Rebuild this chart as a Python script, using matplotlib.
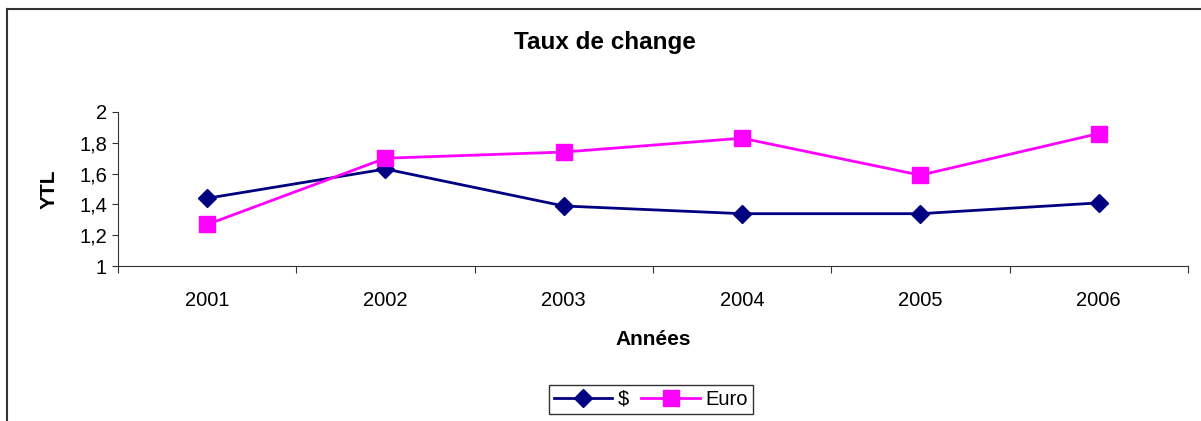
import matplotlib.pyplot as plt
from matplotlib.lines import Line2D

plt.rcParams['font.family'] = ['Liberation Sans', 'DejaVu Sans']

years = ['2001', '2002', '2003', '2004', '2005', '2006']
usd = [1.44, 1.63, 1.39, 1.34, 1.34, 1.41]
euro = [1.27, 1.70, 1.74, 1.83, 1.59, 1.86]
y_ticks = [1, 1.2, 1.4, 1.6, 1.8, 2]
y_labels = ['1', '1,2', '1,4', '1,6', '1,8', '2']

fig = plt.figure(figsize=(12.01, 4.21), dpi=100)
ax = fig.add_axes([0.0983, 0.368, 0.8907, 0.366])

x = list(range(len(years)))
ax.plot(x, usd, color='#000080', lw=2, marker='D', ms=9, label='$')
ax.plot(x, euro, color='#FF00FF', lw=2, marker='s', ms=11, label='Euro')

ax.set_xlim(-0.5, len(years) - 0.5)
ax.set_ylim(1, 2)
ax.set_yticks(y_ticks)
ax.set_yticklabels(y_labels, fontsize=14.5)
ax.set_xticks([i - 0.5 for i in range(len(years) + 1)])
ax.set_xticklabels([])
ax.set_xticks(x, minor=True)
ax.set_xticklabels(years, minor=True, fontsize=14.5)
ax.tick_params(axis='x', which='major', length=5, direction='out', color='#333333')
ax.tick_params(axis='x', which='minor', length=0, pad=18)
ax.tick_params(axis='y', length=4, direction='out', color='#333333', pad=4)
for s in ['top', 'right']:
    ax.spines[s].set_visible(False)
for s in ['left', 'bottom']:
    ax.spines[s].set_color('#333333')

ax.set_xlabel('Années', fontsize=15, fontweight='bold', labelpad=14)
ax.set_ylabel('YTL', fontsize=15, fontweight='bold', labelpad=15)
fig.text(0.504, 0.898, 'Taux de change', ha='center', va='center', fontsize=17.5, fontweight='bold')

leg = fig.legend(loc='center', bbox_to_anchor=(0.542, 0.052), ncol=2, frameon=True,
                 fancybox=False, edgecolor='black', fontsize=14.5, handlelength=2.9,
                 columnspacing=0.6, handletextpad=0.3, borderpad=0.25, borderaxespad=0)
leg.get_frame().set_linewidth(1)

# chart border (left and top only visible)
fig.add_artist(Line2D([0.006, 0.006], [0, 0.979], color='#333333', lw=1.5))
fig.add_artist(Line2D([0.006, 1], [0.979, 0.979], color='#333333', lw=1.5))

fig.savefig('out.png', dpi=100)
